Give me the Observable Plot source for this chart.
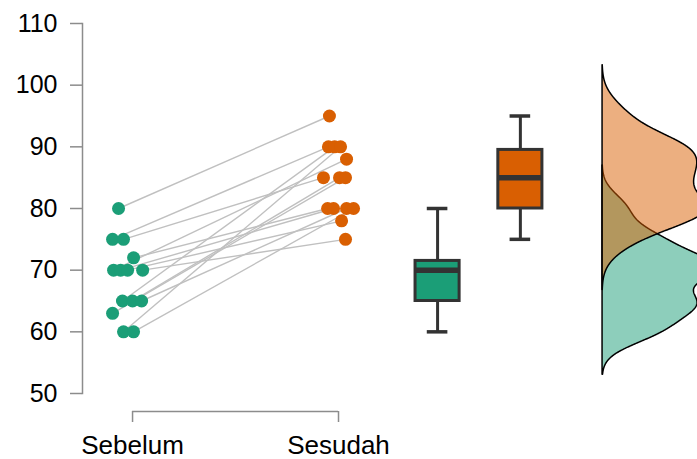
<!DOCTYPE html>
<html>
<head>
<meta charset="utf-8">
<script src="https://cdn.jsdelivr.net/npm/d3@7"></script>
<script src="https://cdn.jsdelivr.net/npm/@observablehq/plot@0.6"></script>
<style>
  html, body { margin: 0; padding: 0; background: #fff; }
  #chart { width: 697px; height: 459px; overflow: hidden; }
</style>
</head>
<body>
<div id="chart"></div>
<script>
// ---- data ----
const groups = ["Sebelum", "Sesudah"];
const sebelum = [80, 75, 75, 72, 70, 70, 70, 70, 65, 65, 65, 63, 60, 60];
const sesudah = [95, 90, 85, 80, 88, 80, 78, 75, 90, 85, 80, 85, 90, 80];
// horizontal jitter of each point (fraction of the category spacing)
const jitterSebelum = [-0.068, -0.097, -0.044, 0.005, -0.092, -0.058, -0.024, 0.049, -0.049, 0.000, 0.044, -0.097, -0.044, 0.005];
const jitterSesudah = [-0.044, -0.049, -0.073, -0.053, 0.039, -0.024, 0.015, 0.034, -0.019, 0.005, 0.039, 0.034, 0.010, 0.073];
const yTicks = [50, 60, 70, 80, 90, 100, 110];

// ---- layout (x in category units: Sebelum = 1, Sesudah = 2) ----
const colors = ["#1b9e77", "#d95f02"];
const catPos = [1, 2];
const boxPos = [2.481, 2.883];
const densBase = 3.282;
const boxHalf = 0.107, capHalf = 0.05;
const densWidth = 0.56; // width of the densest point, in x units

const pairs = sebelum.map((v, i) => ({
  x1: catPos[0] + jitterSebelum[i], y1: v,
  x2: catPos[1] + jitterSesudah[i], y2: sesudah[i]
}));
const pts = [
  ...sebelum.map((v, i) => ({g: 0, x: catPos[0] + jitterSebelum[i], y: v})),
  ...sesudah.map((v, i) => ({g: 1, x: catPos[1] + jitterSesudah[i], y: v}))
];

function stats(vals, g) {
  const s = vals.slice().sort(d3.ascending);
  const q1 = d3.quantile(s, 0.25), med = d3.quantile(s, 0.5), q3 = d3.quantile(s, 0.75);
  const iqr = q3 - q1;
  const lo = d3.min(s.filter(v => v >= q1 - 1.5 * iqr));
  const hi = d3.max(s.filter(v => v <= q3 + 1.5 * iqr));
  return {g, c: boxPos[g], q1, med, q3, lo, hi};
}
const boxes = [stats(sebelum, 0), stats(sesudah, 1)];

function kde(vals, g) {
  const n = vals.length;
  const s = vals.slice().sort(d3.ascending);
  const iqr = d3.quantile(s, 0.75) - d3.quantile(s, 0.25);
  const bw = 0.9 * Math.min(d3.deviation(s), iqr / 1.34) * Math.pow(n, -0.2) * 0.9;
  const lo = d3.min(s) - 3 * bw, hi = d3.max(s) + 3 * bw;
  const grid = d3.range(lo, hi, 0.1).concat([hi]);
  return grid.map(y => ({
    g, y,
    d: d3.sum(s, v => Math.exp(-0.5 * ((y - v) / bw) ** 2)) / (n * bw * Math.sqrt(2 * Math.PI))
  }));
}
const dens = [kde(sebelum, 0), kde(sesudah, 1)];
const dMax = d3.max(dens.flat(), d => d.d);

const plot = Plot.plot({
  width: 697,
  height: 459,
  marginLeft: 82,
  marginRight: 0,
  marginTop: 23,
  marginBottom: 66,
  style: {fontFamily: "'Liberation Sans', Arial, sans-serif", fontSize: "25px", background: "white", overflow: "visible"},
  x: {domain: [0.757, 3.743], axis: null},
  y: {domain: [50, 110], axis: null},
  marks: [
    Plot.frame({anchor: "left", stroke: "#8c8c8c", strokeWidth: 1.5}),
    Plot.axisY({ticks: yTicks, tickSize: 12, tickPadding: 13, stroke: "#8c8c8c", strokeWidth: 1.5, fill: "black", fontSize: 25}),
    Plot.ruleY([yTicks[0]], {x1: catPos[0], x2: catPos[1], dy: 18, stroke: "#8c8c8c", strokeWidth: 1.5}),
    Plot.axisX({ticks: catPos, tickFormat: d => groups[d - 1], tickSize: 11, tickPadding: 13, dy: 18, stroke: "#8c8c8c", strokeWidth: 1.5, fill: "black", fontSize: 26}),
    // paired lines
    Plot.link(pairs, {x1: "x1", y1: "y1", x2: "x2", y2: "y2", stroke: "#c0c0c0", strokeWidth: 1.4}),
    // points
    Plot.dot(pts, {x: "x", y: "y", r: 6.5, fill: d => colors[d.g], stroke: "none"}),
    // boxplots
    Plot.ruleX(boxes, {x: "c", y1: "lo", y2: "q1", stroke: "#333", strokeWidth: 3}),
    Plot.ruleX(boxes, {x: "c", y1: "q3", y2: "hi", stroke: "#333", strokeWidth: 3}),
    Plot.ruleY(boxes, {y: "lo", x1: d => d.c - capHalf, x2: d => d.c + capHalf, stroke: "#333", strokeWidth: 3.5}),
    Plot.ruleY(boxes, {y: "hi", x1: d => d.c - capHalf, x2: d => d.c + capHalf, stroke: "#333", strokeWidth: 3.5}),
    Plot.rect(boxes, {x1: d => d.c - boxHalf, x2: d => d.c + boxHalf, y1: "q1", y2: "q3", fill: d => colors[d.g], stroke: "#333", strokeWidth: 3}),
    Plot.ruleY(boxes, {y: "med", x1: d => d.c - boxHalf, x2: d => d.c + boxHalf, stroke: "#333", strokeWidth: 5.5}),
    // half densities (orange drawn over green)
    Plot.areaX(dens[0], {y: "y", x1: densBase, x2: d => densBase + d.d / dMax * densWidth, fill: colors[0], fillOpacity: 0.5, stroke: "black", strokeWidth: 1.5}),
    Plot.areaX(dens[1], {y: "y", x1: densBase, x2: d => densBase + d.d / dMax * densWidth, fill: colors[1], fillOpacity: 0.5, stroke: "black", strokeWidth: 1.5})
  ]
});
document.getElementById("chart").appendChild(plot);
</script>
</body>
</html>
